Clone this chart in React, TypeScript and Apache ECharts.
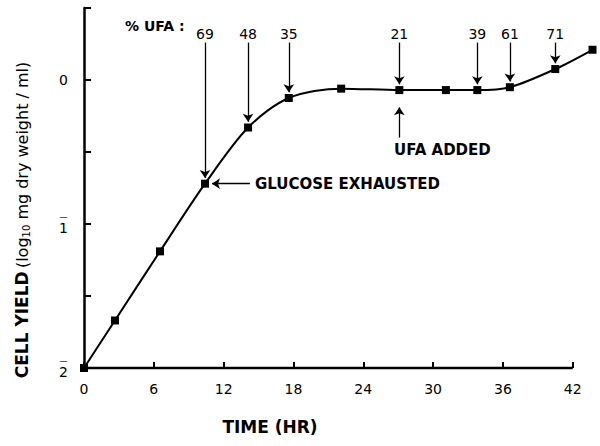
import React, { useEffect, useRef } from "react";
import * as echarts from "echarts";

// time (hr) and log10 cell yield
const times = [0, 2.66, 6.53, 10.4, 14.1, 17.6, 22.1, 27.1, 31.1, 33.8, 36.6, 40.5, 43.7];
const yields = [-2.0, -1.67, -1.19, -0.72, -0.33, -0.125, -0.06, -0.07, -0.07, -0.07, -0.05, 0.076, 0.21];

// % UFA annotations: index of the point, value shown
const ufaPointIdx = [3, 4, 5, 7, 9, 10, 11];
const ufaValues = [69, 48, 35, 21, 39, 61, 71];

const xTicks = [0, 6, 12, 18, 24, 30, 36, 42];
// log10 characteristic notation: bar over the digit means negative
const yTickDigits: Record<string, [string, boolean]> = { "0": ["0", false], "-1": ["1", true], "-2": ["2", true] };

const FONT = "DejaVu Sans";

export default function App() {
  const ref = useRef<HTMLDivElement>(null);
  useEffect(() => {
    if (!ref.current) return;
    const chart = echarts.init(ref.current, null, { renderer: "svg" });
    const data = times.map((t, i) => [t, yields[i]]);
    const arrowTop = 0.26;
    const markData: any[] = ufaPointIdx.map((idx, k) => [
      {
        coord: [times[idx], arrowTop],
        symbol: "none",
        label: {
          show: true,
          position: "start",
          formatter: String(ufaValues[k]),
          color: "#000",
          fontSize: 14,
          fontFamily: FONT,
          distance: 2,
        },
      },
      { coord: [times[idx], yields[idx] + 0.04], symbol: "arrow" },
    ]);
    // UFA added arrow (pointing up to the 21 % point)
    markData.push([
      { coord: [times[7], -0.4], symbol: "none", label: { show: false } },
      { coord: [times[7], yields[7] - 0.12], symbol: "arrow" },
    ]);
    // glucose exhausted arrow (pointing left)
    markData.push([
      { coord: [14.26, yields[3]], symbol: "none", label: { show: false } },
      { coord: [times[3] + 0.6, yields[3]], symbol: "arrow" },
    ]);

    // time axis base line, which stops at the last labelled tick
    const axisBase = [
      [xTicks[0], -2],
      [xTicks[xTicks.length - 1], -2],
    ];

    chart.setOption({
      animation: false,
      grid: { left: 84, top: 8, width: 512, height: 360, containLabel: false },
      xAxis: {
        type: "value",
        min: 0,
        max: 44,
        interval: 6,
        axisLine: { show: false, onZero: false },
        axisTick: {
          show: true,
          inside: true,
          length: 6,
          customValues: xTicks,
          lineStyle: { color: "#000", width: 2 },
        },
        axisLabel: {
          color: "#000",
          fontSize: 14,
          fontFamily: FONT,
          margin: 14,
          customValues: xTicks,
          formatter: (v: number) => (xTicks.includes(v) ? String(v) : ""),
        },
        splitLine: { show: false },
      },
      yAxis: {
        type: "value",
        min: -2,
        max: 0.5,
        interval: 0.5,
        axisLine: { show: true, onZero: false, lineStyle: { color: "#000", width: 2.5 } },
        axisTick: { show: true, inside: true, length: 7, lineStyle: { color: "#000", width: 2 } },
        axisLabel: {
          color: "#000",
          fontSize: 14,
          fontFamily: FONT,
          margin: 16,
          formatter: (v: number) => {
            const d = yTickDigits[String(v)];
            if (!d) return "";
            return d[1] ? "{bar|\u2014}\n{d|" + d[0] + "}" : "{d|" + d[0] + "}";
          },
          rich: {
            bar: { fontSize: 8, lineHeight: 8, fontFamily: FONT, color: "#000", align: "center" },
            d: { fontSize: 14, lineHeight: 14, fontFamily: FONT, color: "#000", align: "center" },
          },
        },
        splitLine: { show: false },
      },
      series: [
        {
          type: "line",
          data: axisBase,
          silent: true,
          clip: false,
          symbol: "none",
          lineStyle: { color: "#000", width: 2.5 },
          z: 1,
        },
        {
          type: "line",
          data,
          smooth: 0.3,
          clip: false,
          symbol: "rect",
          symbolSize: 8,
          showSymbol: true,
          itemStyle: { color: "#000" },
          lineStyle: { color: "#000", width: 2 },
          z: 3,
          markLine: {
            silent: true,
            symbolSize: 8,
            lineStyle: { color: "#000", width: 1.3, type: "solid" },
            label: { show: false },
            data: markData,
          },
        },
      ],
      graphic: [
        {
          type: "text",
          left: 125,
          top: 19,
          style: { text: "% UFA :", fontSize: 14, fontWeight: "bold", fontFamily: FONT, fill: "#000" },
        },
        {
          type: "text",
          left: 394,
          top: 142,
          style: { text: "UFA ADDED", fontSize: 15, fontWeight: "bold", fontFamily: FONT, fill: "#000" },
        },
        {
          type: "text",
          left: 255,
          top: 176,
          style: { text: "GLUCOSE EXHAUSTED", fontSize: 15, fontWeight: "bold", fontFamily: FONT, fill: "#000" },
        },
        {
          type: "text",
          x: 270,
          y: 427,
          style: {
            text: "TIME (HR)",
            fontSize: 17,
            fontWeight: "bold",
            fontFamily: FONT,
            fill: "#000",
            align: "center",
            verticalAlign: "middle",
          },
        },
        {
          type: "text",
          x: 22,
          y: 220,
          rotation: Math.PI / 2,
          style: {
            text: "{b|CELL YIELD} {n|(log}{s|10}{n| mg dry weight / ml)}",
            align: "center",
            verticalAlign: "middle",
            fill: "#000",
            rich: {
              b: { fontSize: 17, fontWeight: "bold", fontFamily: FONT, fill: "#000" },
              n: { fontSize: 16, fontFamily: FONT, fill: "#000" },
              s: { fontSize: 10, fontFamily: FONT, fill: "#000", padding: [8, 0, 0, 0] },
            },
          },
        },
      ],
    });
    return () => chart.dispose();
  }, []);
  return <div ref={ref} style={{ width: 600, height: 446, position: "absolute", left: 0, top: 0 }} />;
}
